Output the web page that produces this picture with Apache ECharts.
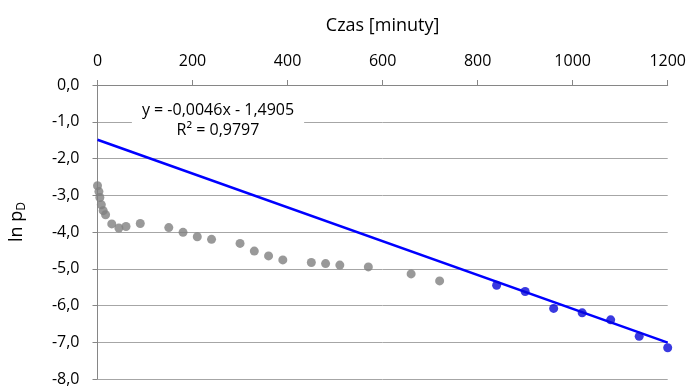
<!DOCTYPE html>
<html>
<head>
<meta charset="utf-8">
<script src="https://cdn.jsdelivr.net/npm/echarts@6/dist/echarts.min.js"></script>
<style>
  html, body { margin: 0; padding: 0; background: #fff; }
  #chart { width: 689px; height: 388px; }
</style>
</head>
<body>
<div id="chart"></div>
<script>
// Early-time measurements (grey) and late-time measurements used for the fit (blue)
const earlyTime = [0, 3, 5, 8, 12, 17, 30, 45, 60, 90, 150, 180, 210, 240, 300, 330, 360, 390, 450, 480, 510, 570, 660, 720];
const earlyLnP  = [-2.74, -2.90, -3.06, -3.26, -3.42, -3.53, -3.78, -3.89, -3.85, -3.77, -3.88, -4.01, -4.13, -4.20, -4.31, -4.52, -4.65, -4.76, -4.83, -4.86, -4.90, -4.95, -5.14, -5.33];
const lateTime  = [840, 900, 960, 1020, 1080, 1140, 1200];
const lateLnP   = [-5.45, -5.62, -6.08, -6.20, -6.39, -6.84, -7.15];

// Linear trend of the late-time points
const trendSlope = -0.0046;
const trendIntercept = -1.4905;
const trendR2 = 0.9797;
const trendRange = [0, 1200];

const fmt = (v, d) => v.toFixed(d).replace('.', ',');
const zip = (xs, ys) => xs.map((x, i) => [x, ys[i]]);

const font = '"Open Sans", "Noto Sans", sans-serif';
const chart = echarts.init(document.getElementById('chart'));

chart.setOption({
  animation: false,
  backgroundColor: '#ffffff',
  grid: { left: 96, right: 20, top: 85, bottom: 9, containLabel: false },
  xAxis: {
    type: 'value',
    position: 'top',
    min: 0, max: 1200, interval: 200,
    name: 'Czas [minuty]',
    nameLocation: 'middle',
    nameGap: 50,
    nameTextStyle: { fontFamily: font, fontSize: 18, color: '#000' },
    axisLine: { show: true, onZero: false, lineStyle: { color: '#868686', width: 1 } },
    axisTick: { show: true, inside: false, length: 5, lineStyle: { color: '#868686' } },
    axisLabel: { fontFamily: font, fontSize: 16, color: '#000', margin: 16, formatter: v => String(v) },
    splitLine: { show: false }
  },
  yAxis: {
    type: 'value',
    min: -8, max: 0, interval: 1,
    name: 'ln p{sub|D}',
    nameLocation: 'middle',
    nameGap: 70,
    nameRotate: 90,
    nameTextStyle: {
      fontFamily: font, fontSize: 18, color: '#000',
      padding: [0, 0, 0, 20],
      rich: { sub: { fontFamily: font, fontSize: 12, color: '#000', padding: [9, 0, 0, 0] } }
    },
    axisLine: { show: true, lineStyle: { color: '#868686', width: 1 } },
    axisTick: { show: true, inside: false, length: 5, lineStyle: { color: '#868686' } },
    axisLabel: { fontFamily: font, fontSize: 16, color: '#000', margin: 18, formatter: v => fmt(v, 1) },
    splitLine: { show: true, lineStyle: { color: '#a6a6a6', width: 1 } }
  },
  series: [
    {
      type: 'line',
      data: trendRange.map(x => [x, trendSlope * x + trendIntercept]),
      showSymbol: false,
      symbol: 'none',
      lineStyle: { color: '#0000ff', width: 2.5 },
      z: 2
    },
    {
      type: 'scatter',
      data: zip(earlyTime, earlyLnP),
      symbolSize: 9,
      itemStyle: { color: '#7f7f7f' },
      z: 3
    },
    {
      type: 'scatter',
      data: zip(lateTime, lateLnP),
      symbolSize: 9,
      itemStyle: { color: '#0808d8' },
      z: 3
    }
  ],
  graphic: [
    {
      type: 'text',
      x: 218,
      y: 100,
      z: 10,
      style: {
        text: 'y = ' + fmt(trendSlope, 4) + 'x - ' + fmt(-trendIntercept, 4) + '\nR² = ' + fmt(trendR2, 4),
        fontFamily: font,
        fontSize: 16,
        lineHeight: 20,
        fill: '#000',
        align: 'center',
        verticalAlign: 'top',
        backgroundColor: '#fff',
        padding: [0, 10, 0, 10]
      }
    }
  ]
});
</script>
</body>
</html>
